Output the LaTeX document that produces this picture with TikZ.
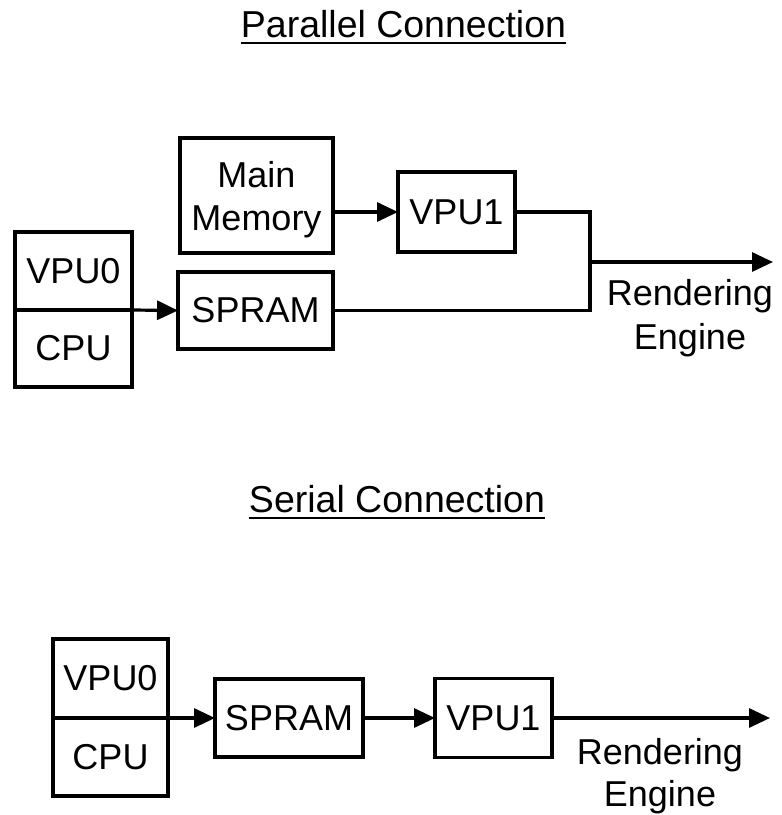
\documentclass[tikz,border=0pt]{standalone}
\usepackage{fontspec}
\setmainfont{Liberation Sans}
\usetikzlibrary{arrows.meta}
\tikzset{
  box/.style={draw, line width=3.2pt, inner sep=0pt, outer sep=0pt, font=\fontsize{36}{42}\selectfont, align=center},
  title/.style={inner sep=0pt, anchor=base, font=\fontsize{37.5}{42}\selectfont},
  lbl/.style={inner sep=0pt, align=center, font=\fontsize{36}{44}\selectfont},
  wire/.style={line width=3.2pt},
  arr/.style={line width=3.2pt, -{Triangle[length=21pt,width=19pt]}},
  uline/.style={line width=2.2pt}
}
\begin{document}
\begin{tikzpicture}[x=1pt,y=-1pt]
\path[use as bounding box] (0,0) rectangle (782,815);

% ---------- Parallel ----------
\node[title] (t1) at (403.5,37) {Parallel Connection};
\draw[uline] ([yshift=-6pt]t1.base west) -- ([yshift=-6pt]t1.base east);

\node[box, minimum width=153pt, minimum height=115pt] (mm) at (256.5,195.5) {};
\node[lbl, font=\fontsize{36}{43}\selectfont] (mmt) at ([yshift=-4pt]mm.center) {Main\\Memory};
\node[box, minimum width=117pt, minimum height=78pt] (vpu0) at (73.5,271) {VPU0};
\node[box, minimum width=117pt, minimum height=77pt] (cpu) at (73.5,348.5) {CPU};
\node[box, minimum width=155pt, minimum height=77pt] (spram) at (255.5,310.5) {SPRAM};
\node[box, minimum width=117pt, minimum height=80pt] (vpu1) at (456.5,212) {VPU1};
\coordinate (j) at (590,262);
\coordinate (out1) at (773,262);

\draw[arr] (vpu0.south east) -- (spram.west);
\draw[arr] (vpu1.west -| mm.east) -- (vpu1.west);
\draw[wire] (vpu1.east) -- (j |- vpu1.east) -- (j |- spram.east) -- (spram.east);
\draw[arr] (j) -- (out1);
\node[lbl] (re1) at (690,318) {Rendering\\Engine};

% ---------- Serial ----------
\node[title] (t2) at (397,512) {Serial Connection};
\draw[uline] ([yshift=-6pt]t2.base west) -- ([yshift=-6pt]t2.base east);

\node[box, minimum width=115pt, minimum height=79pt] (vpu0b) at (110.5,678.5) {VPU0};
\node[box, minimum width=115pt, minimum height=78pt] (cpub) at (110.5,757) {CPU};
\node[box, minimum width=148pt, minimum height=78pt] (spramb) at (289,718) {SPRAM};
\node[box, minimum width=117pt, minimum height=79pt] (vpu1b) at (493.5,718) {VPU1};
\coordinate (out2) at (770,718);

\draw[arr] (vpu0b.south east) -- (spramb.west);
\draw[arr] (spramb.east) -- (vpu1b.west);
\draw[arr] (vpu1b.east) -- (out2);
\node[lbl, font=\fontsize{36}{42}\selectfont] (re2) at (660,776) {Rendering\\Engine};
\end{tikzpicture}
\end{document}
